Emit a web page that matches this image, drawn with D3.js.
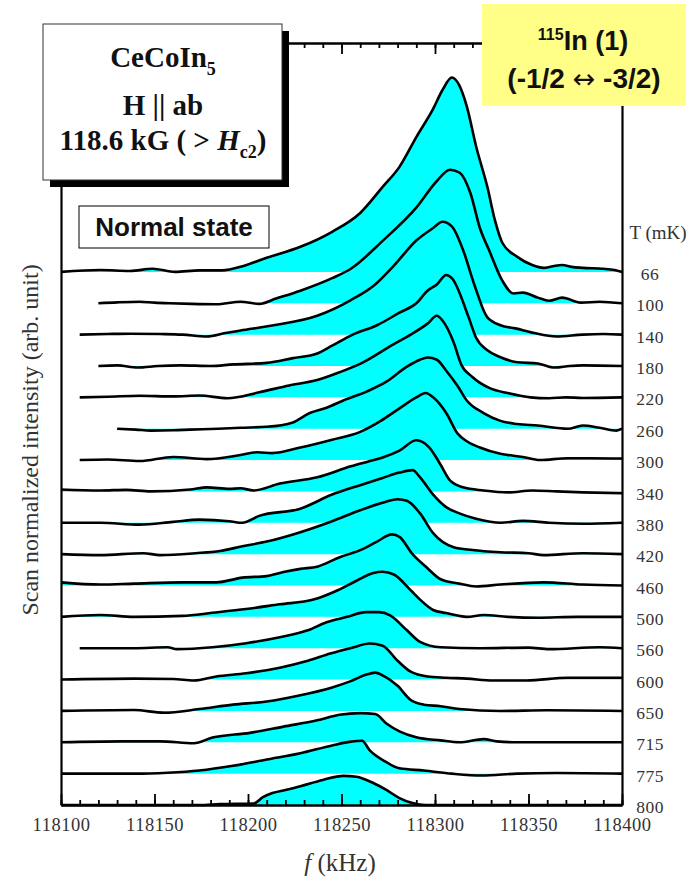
<!DOCTYPE html>
<html>
<head>
<meta charset="utf-8">
<script src="https://cdn.jsdelivr.net/npm/d3@7"></script>
<style>
  body { margin: 0; background: #fff; }
  svg { display: block; }
</style>
</head>
<body>
<svg id="svg" width="696" height="879"></svg>
<script>
// temperatures (mK), one spectrum each, top to bottom
const temps = [66, 100, 140, 180, 220, 260, 300, 340, 380, 420, 460, 500, 560, 600, 650, 715, 775, 800]

// [frequency kHz, intensity arb.u.]
const s66 = [[118100,0],[118121,0.06],[118137,0.03],[118149,0.1],[118161,0],[118174,0.05],[118186,0.05],[118198,0.2],[118210,0.45],[118228,0.8],[118245,1.28],[118260,1.88],[118272,2.71],[118281,3.35],[118290,4.3],[118299,5.2],[118304,5.8],[118309,6.2],[118313,5.95],[118317,5.28],[118322,4.0],[118328,2.71],[118332,1.66],[118336,0.93],[118344,0.48],[118352,0.22],[118358,0.13],[118363,0.18],[118368,0.22],[118373,0.16],[118379,0.13],[118390,0.1],[118396,0.06],[118400,0]]
const s100 = [[118120,0],[118130,0.03],[118142,0.05],[118150,0.02],[118158,0],[118170,-0.02],[118183,-0.03],[118196,0.05],[118206,-0.02],[118215,0.15],[118228,0.4],[118245,0.8],[118255,1.1],[118272,1.99],[118290,3.05],[118301,3.9],[118308,4.26],[118313,4.17],[118319,3.5],[118324,2.4],[118329,1.68],[118336,0.72],[118342,0.31],[118347,0.34],[118355,0.18],[118361,0.08],[118368,0.18],[118378,0.02],[118388,0.05],[118400,0]]
const s140 = [[118110,0],[118125,0.02],[118137,0.03],[118153,0.02],[118165,0],[118178,-0.06],[118188,0.05],[118196,0.13],[118213,0.29],[118237,0.6],[118255,1.1],[118268,1.6],[118278,2.2],[118290,3.0],[118299,3.4],[118304,3.6],[118309,3.45],[118315,2.7],[118321,1.6],[118328,0.55],[118335,0.3],[118343,0.2],[118353,0.05],[118365,-0.06],[118379,0],[118390,0.02],[118400,0]]
const s180 = [[118120,0],[118130,0.02],[118141,-0.05],[118152,0],[118164,0.02],[118180,0],[118192,0.05],[118210,0.1],[118224,0.25],[118237,0.4],[118245,0.65],[118256,1.0],[118269,1.3],[118281,1.7],[118290,2.0],[118296,2.4],[118301,2.6],[118306,2.9],[118309,2.8],[118318,1.55],[118322,0.9],[118328,0.5],[118335,0.28],[118344,0.12],[118355,0.08],[118364,-0.05],[118372,0],[118379,0.02],[118400,0]]
const s220 = [[118110,0],[118125,0.02],[118142,0.05],[118160,0.03],[118174,0.06],[118189,-0.03],[118206,0.16],[118222,0.38],[118237,0.55],[118249,0.8],[118261,1.1],[118278,1.7],[118287,2.0],[118296,2.35],[118301,2.6],[118304,2.45],[118310,1.75],[118314,1.05],[118320,0.65],[118329,0.3],[118340,0.12],[118351,0],[118361,-0.03],[118370,0],[118379,-0.02],[118400,0]]
const s260 = [[118130,0],[118140,-0.03],[118148,-0.06],[118160,-0.05],[118169,-0.03],[118184,0],[118196,0.03],[118210,0.06],[118224,0.2],[118233,0.5],[118242,0.67],[118251,0.9],[118264,1.2],[118274,1.5],[118285,1.98],[118292,2.2],[118296,2.27],[118301,2.2],[118306,1.85],[118312,1.37],[118317,0.9],[118326,0.5],[118335,0.25],[118344,0.15],[118355,0.1],[118371,0],[118379,0.1],[118388,0.03],[118397,-0.06],[118400,0]]
const s300 = [[118110,0],[118125,0.02],[118142,-0.03],[118160,0.1],[118178,0.03],[118196,0.16],[118205,0.25],[118213,0.22],[118228,0.4],[118245,0.65],[118260,0.9],[118271,1.25],[118281,1.65],[118290,2.0],[118295,2.14],[118299,2.0],[118306,1.5],[118312,0.85],[118317,0.6],[118324,0.4],[118335,0.2],[118347,0.1],[118356,0],[118371,0.06],[118383,0.06],[118400,0.05]]
const s340 = [[118100,0.06],[118121,0.03],[118135,0.05],[118148,0],[118169,0.06],[118178,0.13],[118190,0.08],[118196,0.1],[118203,0.03],[118217,0.25],[118237,0.45],[118255,0.8],[118264,0.95],[118272,1.08],[118281,1.3],[118290,1.63],[118297,1.4],[118303,0.85],[118308,0.35],[118315,0.13],[118326,0.03],[118339,-0.03],[118352,0.03],[118365,0],[118379,-0.03],[118400,-0.06]]
const s380 = [[118100,0],[118121,0],[118142,-0.06],[118160,0.03],[118174,0.1],[118190,0.05],[118197,0],[118206,0.22],[118228,0.45],[118245,0.9],[118260,1.2],[118272,1.43],[118281,1.6],[118288,1.68],[118292,1.45],[118299,0.9],[118306,0.5],[118313,0.3],[118322,0.13],[118335,0],[118347,0.06],[118361,0],[118379,-0.03],[118400,0]]
const s420 = [[118100,0],[118121,-0.03],[118144,0.03],[118153,-0.03],[118172,0.03],[118185,0.1],[118197,0.25],[118210,0.4],[118228,0.7],[118245,1.05],[118260,1.4],[118271,1.62],[118280,1.75],[118285,1.7],[118292,1.3],[118299,0.67],[118310,0.22],[118320,0.13],[118335,0.06],[118350,0.03],[118358,-0.03],[118379,0.03],[118400,0]]
const s460 = [[118100,0.1],[118121,0.03],[118139,0.06],[118165,0.1],[118183,0.1],[118197,0.25],[118210,0.3],[118219,0.43],[118228,0.53],[118237,0.6],[118249,0.9],[118261,1.15],[118269,1.4],[118277,1.63],[118281,1.55],[118288,1.0],[118296,0.55],[118303,0.2],[118313,0.06],[118322,-0.03],[118335,0.03],[118358,0.1],[118379,0.03],[118400,0]]
const s500 = [[118100,0],[118121,0.06],[118139,0],[118165,0.03],[118181,0.13],[118199,0.25],[118217,0.4],[118235,0.55],[118248,0.85],[118258,1.15],[118267,1.4],[118272,1.44],[118278,1.35],[118287,0.85],[118292,0.55],[118299,0.22],[118306,0.12],[118317,0],[118326,0.06],[118339,0],[118355,-0.03],[118376,0],[118400,0]]
const s560 = [[118110,0],[118139,0],[118157,0.03],[118162,-0.03],[118181,0.03],[118199,0.16],[118217,0.35],[118232,0.57],[118242,0.83],[118253,1.0],[118263,1.15],[118270,1.15],[118276,1.05],[118285,0.57],[118292,0.2],[118303,0.03],[118324,0],[118350,0.02],[118361,-0.03],[118388,0.03],[118400,0]]
const s600 = [[118100,0],[118139,0.03],[118160,0.02],[118171,-0.03],[118183,0.1],[118199,0.2],[118217,0.38],[118232,0.6],[118244,0.83],[118256,1.02],[118265,1.15],[118272,1.08],[118280,0.6],[118287,0.25],[118296,0.1],[118306,0.06],[118317,0.03],[118331,-0.03],[118349,-0.03],[118371,0.06],[118400,0.06]]
const s650 = [[118100,0],[118139,0.03],[118155,-0.06],[118174,0.06],[118192,0.2],[118210,0.3],[118228,0.5],[118245,0.75],[118255,0.95],[118263,1.15],[118268,1.22],[118273,1.1],[118280,0.8],[118287,0.35],[118294,0.2],[118303,0.15],[118313,0.06],[118335,0],[118360,0.02],[118400,0]]
const s715 = [[118100,0],[118132,0.03],[118153,0.03],[118171,-0.03],[118181,0.15],[118201,0.3],[118219,0.5],[118237,0.7],[118249,0.88],[118260,0.93],[118268,0.9],[118274,0.6],[118281,0.35],[118290,0.16],[118303,0.06],[118313,0],[118326,0.1],[118333,0.03],[118344,0],[118400,0]]
const s775 = [[118100,0],[118139,0],[118157,0.03],[118174,0.1],[118192,0.25],[118210,0.45],[118228,0.65],[118245,0.9],[118255,1.02],[118261,1.05],[118265,0.75],[118273,0.4],[118281,0.17],[118294,0.1],[118309,0],[118325,-0.06],[118344,0],[118365,0.02],[118400,0]]
const s800 = [[118100,0],[118174,0],[118185,0.03],[118203,0.05],[118208,0.25],[118213,0.38],[118220,0.48],[118228,0.6],[118240,0.8],[118251,0.93],[118258,0.9],[118267,0.7],[118274,0.48],[118281,0.22],[118288,0.06],[118295,0],[118400,0]]

const spectra = [s66, s100, s140, s180, s220, s260, s300, s340, s380, s420, s460, s500, s560, s600, s650, s715, s775, s800]

const xMajor = [118100, 118150, 118200, 118250, 118300, 118350, 118400]

let svg = d3.select('#svg')

let mLeft = 61, mRight = 622, mTop = 43, mBottom = 805

let x = d3.scaleLinear().domain([118100, 118400]).range([mLeft, mRight])
let y = d3.scaleLinear().domain([0, 24.3]).range([mBottom, mTop])

// offset of each trace, bottom one sits on the axis
let offset = i => temps.length - 1 - i

let traces = svg.append('g')

traces.selectAll('path.fill')
  .data(spectra)
  .enter()
  .append('path')
  .attr('class', 'fill')
  .attr('fill', '#00ffff')
  .attr('d', (d, i) => d3.area()
    .curve(d3.curveMonotoneX)
    .x(p => x(p[0]))
    .y0(y(offset(i)))
    .y1(p => y(offset(i) + p[1]))(d))

traces.selectAll('path.line')
  .data(spectra)
  .enter()
  .append('path')
  .attr('class', 'line')
  .attr('fill', 'none')
  .attr('stroke', '#000')
  .attr('stroke-width', 2.6)
  .attr('stroke-linejoin', 'round')
  .attr('d', (d, i) => d3.line()
    .curve(d3.curveMonotoneX)
    .x(p => x(p[0]))
    .y(p => y(offset(i) + p[1]))(d))

// temperature labels
svg.selectAll('text.temp')
  .data(temps)
  .enter()
  .append('text')
  .attr('class', 'temp')
  .attr('x', 650)
  .attr('y', (d, i) => y(offset(i)) + 2)
  .attr('dy', '0.35em')
  .attr('text-anchor', 'middle')
  .attr('font-family', 'Liberation Serif, serif')
  .attr('font-size', 17.5)
  .attr('letter-spacing', 0.5)
  .attr('fill', '#333')
  .text(d => d)

svg.append('text')
  .attr('x', 658)
  .attr('y', 232)
  .attr('dy', '0.35em')
  .attr('text-anchor', 'middle')
  .attr('font-family', 'Liberation Serif, serif')
  .attr('font-size', 19)
  .attr('fill', '#333')
  .text('T (mK)')

// axes
let styleAxis = g => {
  g.selectAll('.domain').attr('stroke', '#000').attr('stroke-width', 2.2)
  g.selectAll('.tick line').attr('stroke', '#000').attr('stroke-width', 1.8)
}

svg.append('g')
  .attr('transform', `translate(0,${mBottom})`)
  .call(d3.axisBottom(x).ticks(30).tickSize(-5).tickSizeOuter(0).tickFormat(''))
  .call(styleAxis)

svg.append('g')
  .attr('transform', `translate(0,${mBottom})`)
  .call(d3.axisBottom(x).tickValues(xMajor).tickSize(-11).tickSizeOuter(0).tickPadding(13).tickFormat(d3.format('d')))
  .attr('font-family', 'Liberation Serif, serif')
  .attr('font-size', 18.5)
  .call(styleAxis)
  .call(g => g.selectAll('text')
    .attr('letter-spacing', 0.5)
    .attr('fill', '#333'))

svg.append('g')
  .attr('transform', `translate(0,${mTop})`)
  .call(d3.axisTop(x).ticks(30).tickSize(-5).tickSizeOuter(0).tickFormat(''))
  .call(styleAxis)

svg.append('g')
  .attr('transform', `translate(0,${mTop})`)
  .call(d3.axisTop(x).tickValues(xMajor).tickSize(-11).tickSizeOuter(0).tickFormat(''))
  .call(styleAxis)

svg.append('g')
  .attr('transform', `translate(${mLeft},0)`)
  .call(d3.axisLeft(y).tickValues([]).tickSizeOuter(0))
  .call(styleAxis)

svg.append('g')
  .attr('transform', `translate(${mRight},0)`)
  .call(d3.axisRight(y).tickValues([]).tickSizeOuter(0))
  .call(styleAxis)

// axis titles
let xt = svg.append('text')
  .attr('x', 340)
  .attr('y', 871)
  .attr('text-anchor', 'middle')
  .attr('font-family', 'Liberation Serif, serif')
  .attr('font-size', 25)
  .attr('fill', '#333')
xt.append('tspan').attr('font-style', 'italic').text('f')
xt.append('tspan').text(' (kHz)')

svg.append('text')
  .attr('transform', 'translate(38,440) rotate(-90)')
  .attr('text-anchor', 'middle')
  .attr('font-family', 'Liberation Serif, serif')
  .attr('font-size', 24)
  .attr('fill', '#333')
  .text('Scan normalized intensity (arb. unit)')

// sample box with shadow
svg.append('rect')
  .attr('x', 50).attr('y', 31).attr('width', 239).attr('height', 156)
  .attr('fill', '#000')
svg.append('rect')
  .attr('x', 43).attr('y', 24).attr('width', 239).attr('height', 156)
  .attr('fill', '#fff').attr('stroke', '#333').attr('stroke-width', 1)

let boxText = (yy) => svg.append('text')
  .attr('x', 163)
  .attr('y', yy)
  .attr('text-anchor', 'middle')
  .attr('font-family', 'Liberation Serif, serif')
  .attr('font-size', 29)
  .attr('font-weight', 'bold')
  .attr('fill', '#111')

let t1 = boxText(67)
t1.append('tspan').text('CeCoIn')
t1.append('tspan').attr('dy', 8).attr('font-size', 18).text('5')

boxText(115).text('H || ab')

let t3 = boxText(150)
t3.append('tspan').text('118.6 kG ( > ')
t3.append('tspan').attr('font-style', 'italic').text('H')
t3.append('tspan').attr('dy', 8).attr('font-size', 18).text('c2')
t3.append('tspan').attr('dy', -8).text(')')

// normal state label
svg.append('rect')
  .attr('x', 79).attr('y', 206).attr('width', 190).attr('height', 42)
  .attr('fill', '#fff').attr('stroke', '#000').attr('stroke-width', 1)
svg.append('text')
  .attr('x', 174)
  .attr('y', 236)
  .attr('text-anchor', 'middle')
  .attr('font-family', 'Liberation Sans, Arial, sans-serif')
  .attr('font-size', 26)
  .attr('font-weight', 'bold')
  .attr('fill', '#111')
  .text('Normal state')

// transition label
svg.append('rect')
  .attr('x', 482).attr('y', 4).attr('width', 204).attr('height', 102)
  .attr('fill', '#ffff88')

let nuc = svg.append('text')
  .attr('x', 583)
  .attr('y', 50)
  .attr('text-anchor', 'middle')
  .attr('font-family', 'Liberation Sans, Arial, sans-serif')
  .attr('font-size', 27)
  .attr('font-weight', 'bold')
  .attr('fill', '#111')
nuc.append('tspan').attr('dy', -10).attr('font-size', 16).text('115')
nuc.append('tspan').attr('dy', 10).text('In (1)')

let tr = svg.append('text')
  .attr('x', 584)
  .attr('y', 88)
  .attr('text-anchor', 'middle')
  .attr('font-family', 'Liberation Sans, Arial, sans-serif')
  .attr('font-size', 28)
  .attr('font-weight', 'bold')
  .attr('fill', '#111')
tr.append('tspan').text('(-1/2 ')
tr.append('tspan').attr('font-weight', 'normal').attr('font-family', 'DejaVu Sans, sans-serif').attr('font-size', 27).text('\u2194')
tr.append('tspan').text(' -3/2)')
</script>
</body>
</html>
